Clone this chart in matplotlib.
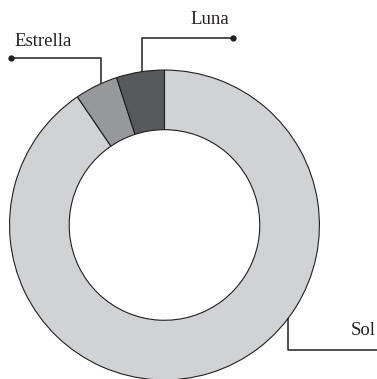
import numpy as np
import matplotlib
matplotlib.use("Agg")
import matplotlib.pyplot as plt

# data
labels = ["Sol", "Estrella", "Luna"]
values = [90.5, 4.5, 5.0]
colors = ["#d1d2d4", "#97989a", "#58595b"]

# leader line layout: (fraction along wedge clockwise, elbow y, end x, text x, text y)
leaders = {
    "Sol": (0.39, -0.806, 1.40, 1.284, -0.684),
    "Estrella": (0.62, 1.077, -0.990, -0.781, 1.181),
    "Luna": (0.54, 1.206, 0.442, 0.294, 1.323),
}

plt.rcParams["font.family"] = ["Liberation Serif", "DejaVu Serif"]

fig = plt.figure(figsize=(3.77, 3.79), dpi=100)
ax = fig.add_axes([0, 0, 1, 1])

wedges, _ = ax.pie(values, colors=colors, startangle=90, counterclock=False,
                   radius=1.0,
                   wedgeprops=dict(width=0.385, edgecolor="#231f20", linewidth=0.8))

ink = "#231f20"
for w, lab in zip(wedges, labels):
    frac, ey, ex, tx, ty = leaders[lab]
    # wedges run clockwise, so measure from theta2
    ang = np.deg2rad(w.theta2 - frac * (w.theta2 - w.theta1))
    ax0, ay0 = np.cos(ang), np.sin(ang)
    ax.plot([ax0, ax0, ex], [ay0, ey, ey], color=ink, lw=1.1,
            solid_capstyle="butt", clip_on=False)
    ax.plot([ex], [ey], "o", color=ink, ms=3.5, clip_on=False)
    ax.text(tx, ty, lab, ha="center", va="center", fontsize=13.5, color=ink)

ax.set_xlim(-1.061, 1.371)
ax.set_ylim(-0.994, 1.452)
ax.set_aspect("equal")
ax.axis("off")

fig.savefig("out.png", dpi=100)
